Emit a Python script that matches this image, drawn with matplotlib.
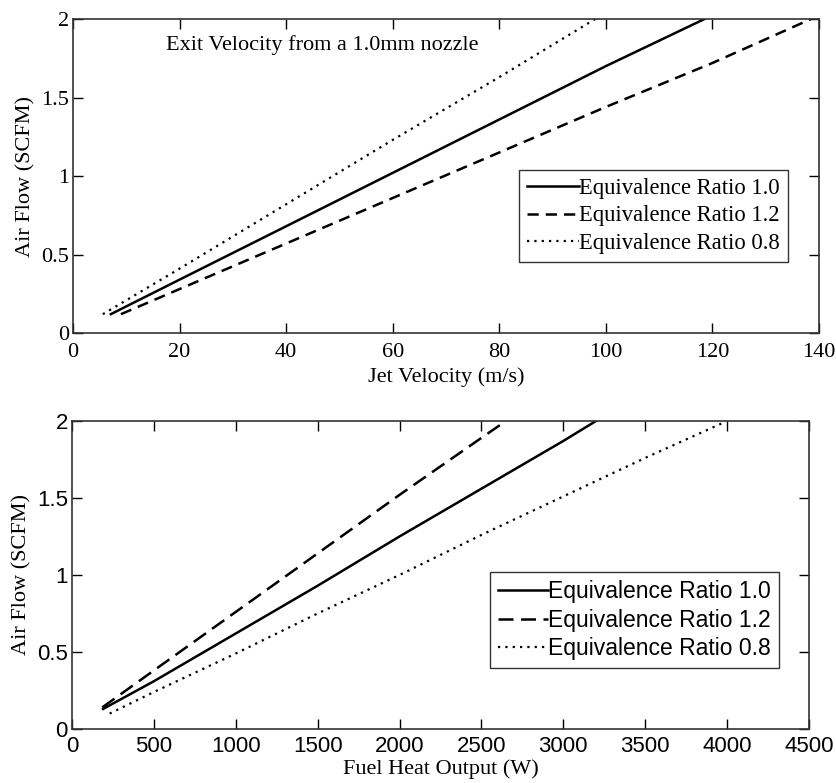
import matplotlib.pyplot as plt
import numpy as np

# Top panel: air flow vs jet velocity (1.0 mm nozzle)
vel_er10 = [7.1, 20, 40, 60, 80, 100, 118.5]
flow_er10 = [0.12, 0.34, 0.68, 1.02, 1.36, 1.70, 2.0]
vel_er12 = [9.0, 20, 40, 60, 80, 100, 120, 138.5]
flow_er12 = [0.12, 0.28, 0.57, 0.86, 1.15, 1.44, 1.72, 2.0]
vel_er08 = [5.6, 20, 40, 60, 80, 98]
flow_er08 = [0.12, 0.41, 0.82, 1.23, 1.63, 2.0]

# Bottom panel: air flow vs fuel heat output
heat_er10 = [190, 500, 1000, 1500, 2000, 2500, 3000, 3200]
hflow_er10 = [0.13, 0.31, 0.62, 0.93, 1.25, 1.56, 1.87, 2.0]
heat_er12 = [185, 500, 1000, 1500, 2000, 2500, 2650]
hflow_er12 = [0.14, 0.38, 0.76, 1.14, 1.52, 1.89, 2.0]
heat_er08 = [230, 500, 1000, 1500, 2000, 2500, 3000, 3500, 3980]
hflow_er08 = [0.10, 0.24, 0.49, 0.75, 1.00, 1.26, 1.51, 1.76, 1.99]

labels = ['Equivalence Ratio 1.0', 'Equivalence Ratio 1.2', 'Equivalence Ratio 0.8']

serif = 'Liberation Serif'
sans = 'Liberation Sans'

fig = plt.figure(figsize=(8.37, 7.83), dpi=100)

# ---- top axes ----
ax1 = fig.add_axes([0.0872, 0.5747, 0.8913, 0.401])
ax1.plot(vel_er10, flow_er10, color='black', lw=1.8, ls='-', label=labels[0])
ax1.plot(vel_er12, flow_er12, color='black', lw=1.8, ls=(0, (4.5, 2.8)), label=labels[1])
ax1.plot(vel_er08, flow_er08, color='black', lw=1.6, ls=(0, (1, 2.3)), label=labels[2])
ax1.set_xlim(0, 140)
ax1.set_ylim(0, 2)
ax1.set_xticks(np.arange(0, 141, 20))
ax1.set_yticks([0, 0.5, 1, 1.5, 2])
ax1.set_yticklabels(['0', '0.5', '1', '1.5', '2'])
ax1.set_xlabel('Jet Velocity (m/s)', fontfamily=serif, fontsize=16, labelpad=4)
ax1.set_ylabel('Air Flow (SCFM)', fontfamily=serif, fontsize=16, labelpad=4)
ax1.text(17.5, 1.80, 'Exit Velocity from a 1.0mm nozzle', fontfamily=serif, fontsize=16)
leg1 = ax1.legend(loc='upper left', bbox_to_anchor=(0.598, 0.52), frameon=True,
                  fancybox=False, edgecolor='#333333', framealpha=1,
                  prop={'family': serif, 'size': 16.3}, handlelength=2.3,
                  handletextpad=0.0, borderpad=0.35, labelspacing=0.3, borderaxespad=0)
leg1.get_frame().set_linewidth(1.0)

# ---- bottom axes ----
ax2 = fig.add_axes([0.086, 0.069, 0.8805, 0.3934])
ax2.plot(heat_er10, hflow_er10, color='black', lw=1.8, ls='-', label=labels[0])
ax2.plot(heat_er12, hflow_er12, color='black', lw=1.8, ls=(0, (6, 3)), label=labels[1])
ax2.plot(heat_er08, hflow_er08, color='black', lw=1.6, ls=(0, (1, 2.3)), label=labels[2])
ax2.set_xlim(0, 4500)
ax2.set_ylim(0, 2)
ax2.set_xticks(np.arange(0, 4501, 500))
ax2.set_yticks([0, 0.5, 1, 1.5, 2])
ax2.set_yticklabels(['0', '0.5', '1', '1.5', '2'])
ax2.set_xlabel('Fuel Heat Output (W)', fontfamily=serif, fontsize=16, labelpad=2)
ax2.set_ylabel('Air Flow (SCFM)', fontfamily=serif, fontsize=16, labelpad=4)
leg2 = ax2.legend(loc='upper left', bbox_to_anchor=(0.567, 0.51), frameon=True,
                  fancybox=False, edgecolor='#333333', framealpha=1,
                  prop={'family': sans, 'size': 16.5}, handlelength=2.2,
                  handletextpad=0.0, borderpad=0.35, labelspacing=0.25, borderaxespad=0)
leg2.get_frame().set_linewidth(1.0)

for ax, fam, xpad in ((ax1, serif, 7), (ax2, sans, 5)):
    ax.tick_params(direction='in', top=True, right=True, length=7, width=1,
                   labelsize=16)
    ax.tick_params(axis='x', pad=xpad)
    ax.tick_params(axis='y', pad=3)
    for lab in ax.get_xticklabels() + ax.get_yticklabels():
        lab.set_fontfamily(fam)
    for sp in ax.spines.values():
        sp.set_linewidth(1.2)
        sp.set_color('#333333')

fig.savefig('out.png', dpi=100)
